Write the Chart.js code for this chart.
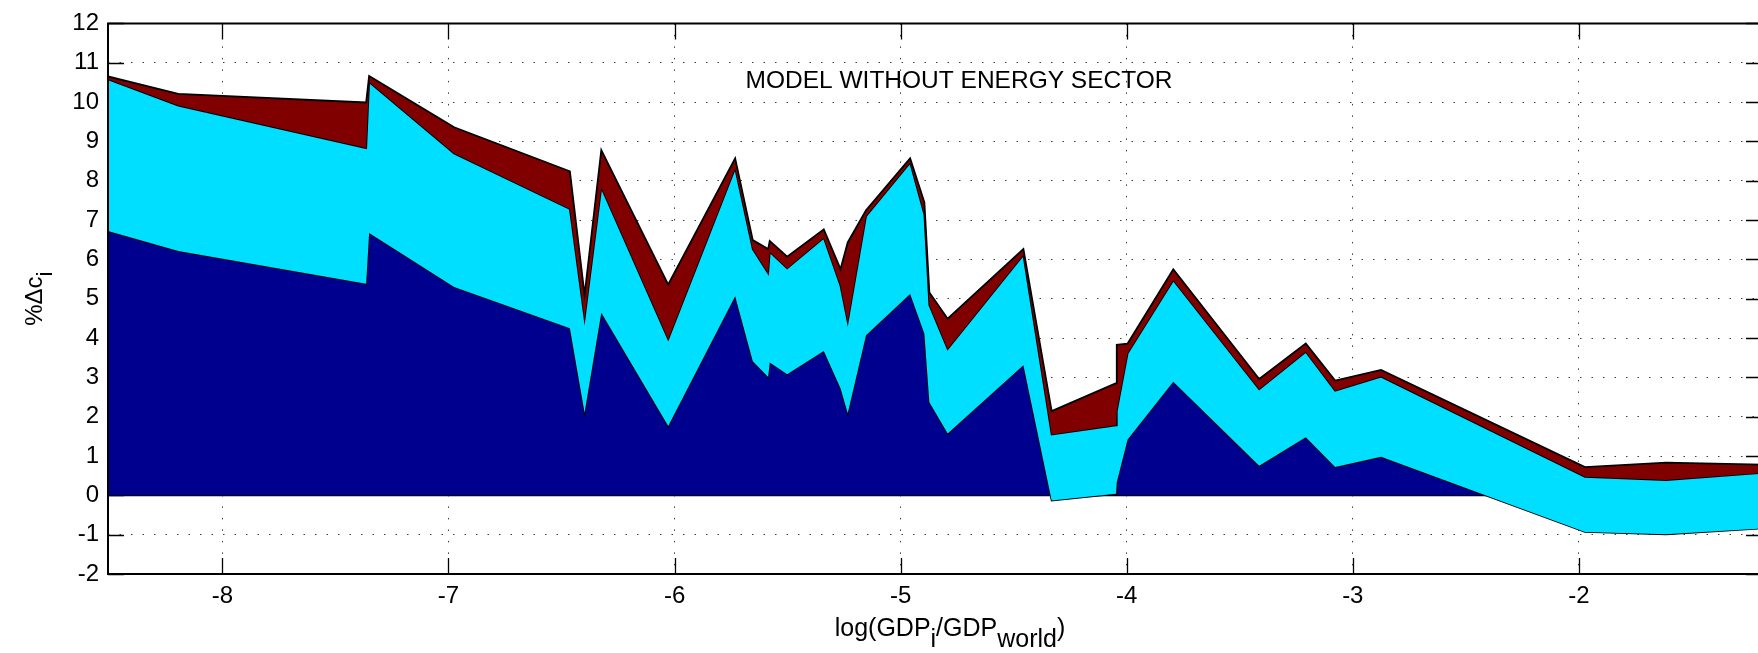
<!DOCTYPE html>
<html>
<head>
<meta charset="utf-8">
<script src="https://cdn.jsdelivr.net/npm/chart.js@4.4.0/dist/chart.umd.min.js"></script>
<style>
html,body{margin:0;padding:0;background:#fff;overflow:hidden;width:1758px;height:653px}
#wrap{width:1762px;height:653px}
canvas{display:block}
</style>
</head>
<body>
<div id="wrap"><canvas id="c" width="1762" height="653"></canvas></div>
<script>
// ---- data ----
const xValues = [-8.506,-8.195,-7.364,-7.351,-6.975,-6.463,-6.398,-6.324,-6.028,-5.732,
  -5.654,-5.586,-5.579,-5.502,-5.340,-5.266,-5.234,-5.153,-4.958,-4.895,
  -4.873,-4.792,-4.457,-4.332,-4.047,-4.044,-3.996,-3.794,-3.414,-3.208,
  -3.078,-2.875,-1.973,-1.614,-1.19];
// bottom layer (navy)
const layerNavy = [6.72,6.21,5.38,6.67,5.30,4.25,2.10,4.64,1.76,5.06,
  3.41,3.01,3.38,3.08,3.67,2.72,2.09,4.07,5.12,4.11,
  2.37,1.57,3.31,-0.13,0.04,0.33,1.42,2.89,0.75,1.48,
  0.72,0.98,-0.93,-0.99,-0.84];
// middle layer (cyan)
const layerCyan = [3.86,3.70,3.45,3.84,3.39,3.03,2.39,3.19,2.21,3.26,
  2.85,2.64,2.81,2.69,2.88,2.61,2.32,3.03,3.34,3.03,
  2.47,2.15,2.80,1.68,1.74,1.81,2.19,2.58,1.95,2.17,
  1.94,2.04,1.40,1.38,1.41];
// top layer (dark red)
const layerRed = [0.07,0.30,1.16,0.15,0.67,0.96,0.60,0.95,1.39,0.25,
  0.23,0.61,0.28,0.30,0.21,0.42,2.02,0.15,0.11,0.31,
  0.32,0.77,0.15,0.59,1.07,1.69,0.25,0.28,0.26,0.21,
  0.26,0.17,0.25,0.44,0.21];
const xTickValues = [-8,-7,-6,-5,-4,-3,-2];
const yTickValues = [-2,-1,0,1,2,3,4,5,6,7,8,9,10,11,12];
const xMin = -8.506, xMax = -1.19, yMin = -2, yMax = 12;
const titleText = 'MODEL WITHOUT ENERGY SECTOR';

// ---- build stacked boundaries ----
const cum1 = layerNavy.slice();
const cum2 = cum1.map((v,i)=>v+layerCyan[i]);
const cum3 = cum2.map((v,i)=>v+layerRed[i]);
const pts = arr => arr.map((y,i)=>({x:xValues[i], y:y}));

const FONT = '"Liberation Sans", Arial, Helvetica, sans-serif';

const framePlugin = {
  id:'frame',
  beforeDatasetsDraw(chart){
    const {ctx, chartArea:a, scales:{x,y}} = chart;
    ctx.save();
    // zero line (edge of bottom patch)
    const y0 = y.getPixelForValue(0);
    ctx.strokeStyle = '#000'; ctx.lineWidth = 1.6;
    ctx.beginPath(); ctx.moveTo(a.left, y0); ctx.lineTo(a.right, y0); ctx.stroke();
    // inward ticks
    const tl = 16;
    ctx.lineWidth = 1.3;
    ctx.beginPath();
    xTickValues.forEach(v=>{
      const px = Math.round(x.getPixelForValue(v))+0.5;
      ctx.moveTo(px, a.bottom); ctx.lineTo(px, a.bottom-tl);
      ctx.moveTo(px, a.top); ctx.lineTo(px, a.top+tl);
    });
    yTickValues.forEach(v=>{
      const py = Math.round(y.getPixelForValue(v))+0.5;
      ctx.moveTo(a.left, py); ctx.lineTo(a.left+tl, py);
      ctx.moveTo(a.right, py); ctx.lineTo(a.right-tl, py);
    });
    ctx.stroke();
    ctx.restore();
  },
  afterDatasetsDraw(chart){
    const {ctx, chartArea:a} = chart;
    ctx.save();
    ctx.strokeStyle = '#000'; ctx.lineWidth = 2;
    ctx.beginPath();
    ctx.moveTo(a.right, a.top); ctx.lineTo(a.left, a.top);
    ctx.lineTo(a.left, a.bottom); ctx.lineTo(a.right, a.bottom);
    ctx.stroke();
    ctx.restore();
  }
};

const textPlugin = {
  id:'texts',
  afterDraw(chart){
    const {ctx, chartArea:a} = chart;
    ctx.save();
    ctx.fillStyle = '#000';
    ctx.textBaseline = 'alphabetic';
    // title inside plot
    ctx.font = '24.5px ' + FONT;
    ctx.textAlign = 'center';
    ctx.fillText(titleText, 959, 88);
    // x label: log(GDP_i/GDP_world)
    const parts = [['log(GDP',25,0],['i',25,11],['/GDP',25,0],['world',25,11],[')',25,0]];
    ctx.textAlign = 'left';
    let total = 0;
    parts.forEach(p=>{ctx.font = p[1]+'px '+FONT; total += ctx.measureText(p[0]).width;});
    let cx = 950 - total/2;
    parts.forEach(p=>{ctx.font = p[1]+'px '+FONT; ctx.fillText(p[0], cx, 636+p[2]); cx += ctx.measureText(p[0]).width;});
    // y label: %Δc_i rotated
    ctx.translate(42, (a.top+a.bottom)/2);
    ctx.rotate(-Math.PI/2);
    const yparts = [['%\u0394c',24,0],['i',22,10]];
    total = 0;
    yparts.forEach(p=>{ctx.font = p[1]+'px '+FONT; total += ctx.measureText(p[0]).width;});
    cx = -total/2;
    yparts.forEach(p=>{ctx.font = p[1]+'px '+FONT; ctx.fillText(p[0], cx, p[2]); cx += ctx.measureText(p[0]).width;});
    ctx.restore();
  }
};

const gridCommon = {color:'rgba(0,0,0,0.75)', lineWidth:1, drawTicks:false, borderDash:[1.5,10]};

new Chart(document.getElementById('c'), {
  type:'line',
  data:{datasets:[
    {label:'bottom', data:pts(cum1), backgroundColor:'#00008F', borderColor:'#000', borderWidth:1.8, fill:'origin', order:3},
    {label:'middle', data:pts(cum2), backgroundColor:'#00DFFF', borderColor:'#000', borderWidth:1.8, fill:'-1', order:2},
    {label:'top', data:pts(cum3), backgroundColor:'#800000', borderColor:'#000', borderWidth:1.8, fill:'-1', order:1}
  ]},
  options:{
    responsive:false, animation:false, devicePixelRatio:1,
    elements:{point:{radius:0, hoverRadius:0}, line:{tension:0, borderJoinStyle:'miter'}},
    layout:{padding:{top:20, left:0, right:0, bottom:0}},
    plugins:{legend:{display:false}, tooltip:{enabled:false}, title:{display:false}},
    events:[],
    scales:{
      x:{type:'linear', min:xMin, max:xMax,
        afterBuildTicks:s=>{s.ticks = xTickValues.map(v=>({value:v}));},
        afterFit:s=>{s.height = 79;},
        grid:gridCommon,
        border:{display:false, dash:[1.5,10]},
        ticks:{font:{family:FONT, size:24}, color:'#000', padding:8, maxRotation:0, autoSkip:false, includeBounds:false}
      },
      y:{type:'linear', min:yMin, max:yMax,
        afterBuildTicks:s=>{s.ticks = yTickValues.map(v=>({value:v}));},
        afterFit:s=>{s.width = 108;},
        grid:gridCommon,
        border:{display:false, dash:[1.5,10]},
        ticks:{font:{family:FONT, size:24}, color:'#000', padding:9, autoSkip:false, includeBounds:false}
      }
    }
  },
  plugins:[framePlugin, textPlugin]
});
</script>
</body>
</html>
